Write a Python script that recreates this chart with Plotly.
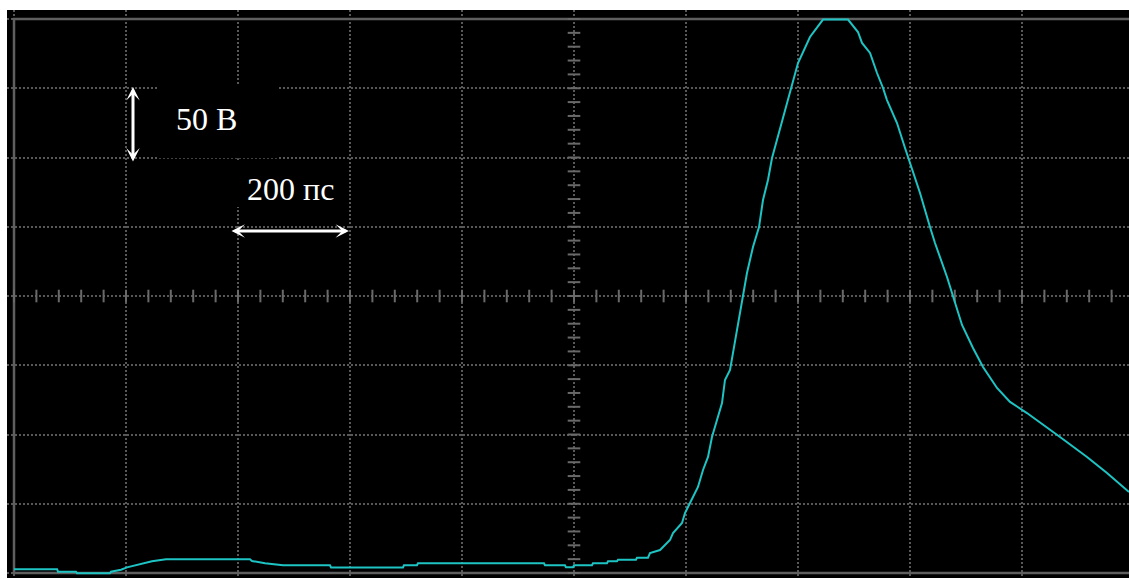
import plotly.graph_objects as go

# Oscilloscope trace: time in ps (200 ps/div), voltage in V (50 V/div)
time_ps = [-1000, -923, -921.4, -889.3, -887.5, -828.6, -826.8, -808.9, -798.2, -784.1,
           -771.4, -753.6, -728.6, -578.6, -575, -551.8, -519.6, -435.7, -433.9, -305.4,
           -303.6, -280.4, -278.6, -53.6, -51.8, -16.1, -14.3, -1.8, 0, 32.1,
           33.9, 58.9, 60.7, 76.8, 78.6, 110.7, 112.5, 132.1, 135.7, 153.6,
           171.4, 176.8, 192.9, 198.2, 207.1, 221.4, 230.4, 239.3, 246.4, 255.4,
           264.3, 269.6, 278.6, 291.1, 301.8, 308.9, 319.6, 330.4, 337.5, 346.4,
           353.6, 362.5, 371.4, 380.4, 391.1, 400.0, 421.4, 444.6, 489.3, 507.1,
           514.3, 528.6, 541.1, 551.8, 558.9, 576.8, 591.1, 596.4, 617.9, 635.7,
           644.6, 666.1, 676.8, 692.9, 712.5, 730.4, 755.4, 778.6, 808.9, 844.6,
           867.9, 916.1, 951.8, 991.1]
voltage_v = [-197.3, -197.3, -199.1, -199.1, -200.2, -200.2, -199.1, -197.6, -195.9, -194.4,
             -193.0, -191.5, -190.1, -190.1, -191.3, -193.0, -194.4, -194.4, -196.0, -196.0,
             -194.4, -194.4, -193.0, -193.0, -194.4, -194.4, -195.9, -195.9, -194.4, -194.4,
             -193.0, -193.0, -191.5, -191.5, -190.4, -190.4, -188.9, -188.9, -185.6, -183.4,
             -176.2, -171.1, -163.9, -156.7, -149.5, -137.9, -125.6, -116.2, -101.8, -89.5,
             -77.3, -60.6, -53.4, -24.5, 0.0, 16.6, 35.4, 49.8, 69.3, 83.8,
             99.6, 112.6, 124.9, 139.4, 153.8, 168.2, 187.0, 199.6, 199.6, 190.6,
             182.7, 175.5, 161.0, 150.2, 141.5, 124.9, 106.9, 100.4, 74.4, 49.8,
             38.3, 13.7, -0.7, -20.9, -37.5, -51.3, -66.4, -76.5, -84.5, -94.6,
             -101.8, -116.2, -127.8, -141.5]

volt_label = "50 В"
time_label = "200 пс"

GRID = "rgb(88,88,88)"
TICK = "rgb(105,105,105)"
TRACE = "#1ec4c4"

fig = go.Figure()

# minor ticks on the centre cross
hx = [-1000 + 40 * k for k in range(51)]
vy = [-200 + 10 * k for k in range(41)]
fig.add_trace(go.Scatter(x=hx, y=[0] * len(hx), mode="markers", hoverinfo="skip",
                         marker=dict(symbol="line-ns", size=9, line=dict(width=2, color=TICK))))
fig.add_trace(go.Scatter(x=[0] * len(vy), y=vy, mode="markers", hoverinfo="skip",
                         marker=dict(symbol="line-ew", size=9, line=dict(width=2, color=TICK))))

fig.add_trace(go.Scatter(x=time_ps, y=voltage_v, mode="lines", hoverinfo="skip",
                         line=dict(color=TRACE, width=2)))

# frame of the screen
fig.add_shape(type="rect", xref="x", yref="y", x0=-1000, x1=1010, y0=-200, y1=200,
              line=dict(color="rgb(95,95,95)", width=2.5), layer="between")
# black patches behind the scale labels
fig.add_shape(type="rect", xref="x", yref="y", x0=-744.6, x1=-528.6, y0=99.4, y1=152.3,
              fillcolor="black", line=dict(width=0), layer="between")
fig.add_shape(type="rect", xref="x", yref="y", x0=-614.3, x1=-403.6, y0=64.3, y1=98.0,
              fillcolor="black", line=dict(width=0), layer="between")

# scale arrows
fig.add_annotation(x=-787.5, y=150.9, ax=-787.5, ay=96.0, xref="x", yref="y",
                   axref="x", ayref="y", text="", showarrow=True, arrowside="end+start",
                   arrowhead=3, startarrowhead=3, arrowsize=0.75, startarrowsize=0.75,
                   arrowwidth=3, arrowcolor="white")
fig.add_annotation(x=-401.8, y=46.9, ax=-614.3, ay=46.9, xref="x", yref="y",
                   axref="x", ayref="y", text="", showarrow=True, arrowside="end+start",
                   arrowhead=3, startarrowhead=3, arrowsize=0.75, startarrowsize=0.75,
                   arrowwidth=3, arrowcolor="white")

fig.add_annotation(x=-655.4, y=128, xref="x", yref="y", text=volt_label, showarrow=False,
                   font=dict(family="Liberation Serif", size=32, color="white"))
fig.add_annotation(x=-505.4, y=77, xref="x", yref="y", text=time_label, showarrow=False,
                   font=dict(family="Liberation Serif", size=32, color="white"))

axis_common = dict(showticklabels=False, ticks="", zeroline=False, showline=False,
                   showgrid=True, gridcolor=GRID, gridwidth=2, griddash="2px,2px")
fig.update_xaxes(range=[-1012.5, 991.07], tick0=-1000, dtick=200, **axis_common)
fig.update_yaxes(range=[-203.6, 206.5], tick0=-200, dtick=50, **axis_common)

fig.update_layout(width=1129, height=579, autosize=False,
                  margin=dict(l=7, r=0, t=10, b=1, pad=0),
                  paper_bgcolor="white", plot_bgcolor="black", showlegend=False)

fig.write_html("out.html", config={"displayModeBar": False},
               post_script="document.body.style.margin='0';document.body.style.overflow='hidden';")
